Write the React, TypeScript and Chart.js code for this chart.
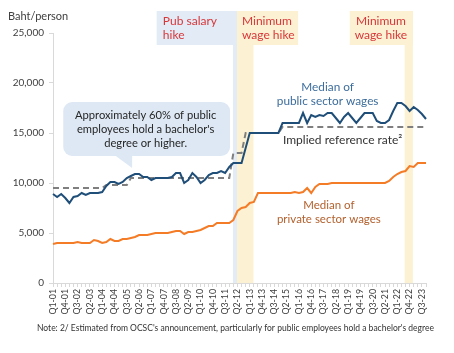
import React, { useEffect, useRef } from 'react';
import { Chart, registerables } from 'chart.js';

Chart.register(...registerables);

const years = ['01','02','03','04','05','06','07','08','09','10','11','12','13','14','15','16','17','18','19','20','21','22','23'];
const quarterNames = ['Q1', 'Q2', 'Q3', 'Q4'];
const quarters: string[] = [];
years.forEach((yy) => quarterNames.forEach((q) => quarters.push(`${q}-${yy}`)));

const publicWages = [
  8900, 8600, 8900, 8500, 8000, 8600, 8700, 9000, 8800, 9000,
  9000, 9000, 9100, 9700, 10100, 10100, 9900, 10100, 10500, 10700,
  10900, 10900, 10600, 10600, 10300, 10500, 10500, 10500, 10500, 10600,
  11000, 11000, 10000, 10300, 11000, 10600, 10000, 10300, 10800, 11000,
  11000, 11200, 11000, 11600, 12000, 12000, 12000, 13500, 15000, 15000,
  15000, 15000, 15000, 15000, 15000, 15000, 16000, 16000, 16000, 16000,
  16000, 17000, 16000, 16800, 16600, 16800, 16700, 17000, 17000, 16500,
  16000, 16600, 17000, 16500, 16000, 16500, 17000, 17000, 17000, 16200,
  16000, 16000, 16300, 17200, 18000, 18000, 17700, 17200, 17600, 17300,
  16900, 16400,
];

const privateWages = [
  3900, 4000, 4000, 4000, 4000, 4000, 4100, 4000, 4000, 4000,
  4300, 4200, 4000, 4100, 4400, 4200, 4200, 4400, 4400, 4500,
  4600, 4800, 4800, 4800, 4900, 5000, 5000, 5000, 5000, 5100,
  5200, 5200, 4900, 5100, 5100, 5200, 5300, 5500, 5700, 5700,
  6000, 6000, 6000, 6000, 6300, 7200, 7500, 7600, 8000, 8100,
  9000, 9000, 9000, 9000, 9000, 9000, 9000, 9000, 9000, 9100,
  9000, 9100, 9500, 9000, 9600, 9900, 9900, 9900, 10000, 10000,
  10000, 10000, 10000, 10000, 10000, 10000, 10000, 10000, 10000, 10000,
  10000, 10000, 10200, 10600, 10900, 11100, 11200, 11700, 11600, 12000,
  12000, 12000,
];

const impliedRate = [
  9500, 9500, 9500, 9500, 9500, 9500, 9500, 9500, 9500, 9500,
  9500, 9500, 9500, 9800, 9800, 9800, 9800, 9800, 9800, 10500,
  10500, 10500, 10500, 10500, 10500, 10500, 10500, 10500, 10500, 10500,
  10500, 10500, 10500, 10500, 10500, 10500, 10500, 10500, 10500, 10500,
  10500, 10500, 10500, 10500, 13000, 13000, 13000, 15000, 15000, 15000,
  15000, 15000, 15000, 15000, 15000, 15000, 15600, 15600, 15600, 15600,
  15600, 15600, 15600, 15600, 15600, 15600, 15600, 15600, 15600, 15600,
  15600, 15600, 15600, 15600, 15600, 15600, 15600, 15600, 15600, 15600,
  15600, 15600, 15600, 15600, 15600, 15600, 15600, 15600, 15600, 15600,
  15600, 15600,
];

const yTicks = [0, 5000, 10000, 15000, 20000, 25000];

const FONT = 'Lato';

const decoPlugin = {
  id: 'deco',
  beforeDatasetsDraw(chart: any) {
    const { ctx, chartArea: ca, scales } = chart;
    const x = scales.x;
    const y = scales.y;
    ctx.save();
    const boxTop = ca.top - 22;
    const boxBottom = ca.top + 12;
    const rect = (i0: number, i1: number, top: number, bottom: number, color: string) => {
      const x0 = x.getPixelForValue(i0);
      const x1 = x.getPixelForValue(i1);
      ctx.fillStyle = color;
      ctx.fillRect(x0, top, x1 - x0, bottom - top);
    };
    const blue = '#e2ebf6';
    const yellow = '#fcf1d2';
    rect(25.3, 44.9, boxTop, boxBottom, blue);
    rect(44.9, 59.8, boxTop, boxBottom, yellow);
    rect(72.4, 87.8, boxTop, boxBottom, yellow);
    rect(43.9, 44.9, boxTop, ca.bottom, blue);
    rect(44.9, 48.9, boxTop, ca.bottom, yellow);
    rect(85.8, 87.8, boxTop, ca.bottom, yellow);

    const cx0 = x.getPixelForValue(2.5);
    const cx1 = x.getPixelForValue(43.2);
    const cy0 = y.getPixelForValue(18100);
    const cy1 = y.getPixelForValue(12700);
    ctx.fillStyle = '#dde8f4';
    ctx.beginPath();
    ctx.roundRect(cx0, cy0, cx1 - cx0, cy1 - cy0, 9);
    ctx.fill();
    ctx.beginPath();
    ctx.moveTo(x.getPixelForValue(15), cy1 - 1);
    ctx.lineTo(x.getPixelForValue(19.3), cy1 - 1);
    ctx.lineTo(x.getPixelForValue(19.3), y.getPixelForValue(11500));
    ctx.closePath();
    ctx.fill();
    ctx.restore();
  },
  afterDatasetsDraw(chart: any) {
    const { ctx, chartArea: ca, scales } = chart;
    const x = scales.x;
    const y = scales.y;
    ctx.save();
    ctx.textBaseline = 'middle';
    const text = (s: string, px: number, py: number, color: string, align: CanvasTextAlign, size = 12) => {
      ctx.font = `${size}px ${FONT}`;
      ctx.fillStyle = color;
      ctx.textAlign = align;
      ctx.fillText(s, px, py);
    };
    const red = '#d8373a';
    const l1 = ca.top - 12;
    const l2 = ca.top + 2;
    text('Pub salary', x.getPixelForValue(26.8), l1, red, 'left', 12);
    text('hike', x.getPixelForValue(26.8), l2, red, 'left', 12);
    text('Minimum', x.getPixelForValue(46.1), l1, red, 'left', 12);
    text('wage hike', x.getPixelForValue(46.1), l2, red, 'left', 12);
    text('Minimum', x.getPixelForValue(80), l1, red, 'center', 12);
    text('wage hike', x.getPixelForValue(80), l2, red, 'center', 12);

    const cxm = x.getPixelForValue(22.6);
    const dark = '#262626';
    text('Approximately 60% of public', cxm, y.getPixelForValue(16800), dark, 'center', 11.2);
    text("employees hold a bachelor's", cxm, y.getPixelForValue(15400), dark, 'center', 11.2);
    text('degree or higher.', cxm, y.getPixelForValue(14000), dark, 'center', 11.2);

    const pub = '#3d6d9c';
    text('Median of', x.getPixelForValue(67), y.getPixelForValue(19600), pub, 'center', 11.8);
    text('public sector wages', x.getPixelForValue(67), y.getPixelForValue(18200), pub, 'center', 11.8);
    text('Implied reference rate\u00B2', x.getPixelForValue(56.1), y.getPixelForValue(14300), '#333333', 'left', 12);
    const priv = '#b3612e';
    text('Median of', x.getPixelForValue(67.3), y.getPixelForValue(7800), priv, 'center', 11.5);
    text('private sector wages', x.getPixelForValue(67.3), y.getPixelForValue(6400), priv, 'center', 11.5);

    text('Baht/person', 8, 16, '#404040', 'left', 11);
    text("Note: 2/ Estimated from OCSC's announcement, particularly for public employees hold a bachelor's degree", 37, 328, '#333333', 'left', 8.5);
    ctx.restore();
  },
};

export default function App() {
  const ref = useRef<HTMLCanvasElement | null>(null);
  useEffect(() => {
    if (!ref.current) return;
    const chart = new Chart(ref.current, {
      type: 'line',
      data: {
        labels: quarters,
        datasets: [
          {
            label: 'Median of public sector wages',
            data: publicWages,
            borderColor: '#1f4e79',
            borderWidth: 2,
            pointRadius: 0,
            tension: 0,
            fill: false,
          },
          {
            label: 'Median of private sector wages',
            data: privateWages,
            borderColor: '#f47c27',
            borderWidth: 2,
            pointRadius: 0,
            tension: 0,
            fill: false,
          },
          {
            label: 'Implied reference rate',
            data: impliedRate,
            borderColor: '#7f7f7f',
            borderWidth: 2,
            borderDash: [6, 4],
            pointRadius: 0,
            tension: 0,
            fill: false,
          },
        ],
      },
      options: {
        animation: false,
        responsive: false,
        devicePixelRatio: 1,
        layout: { padding: { left: 8, right: 28, top: 33, bottom: 34 } },
        plugins: { legend: { display: false }, tooltip: { enabled: false } },
        scales: {
          x: {
            type: 'category',
            offset: false,
            afterFit: (s: any) => { s.height = 36; },
            grid: { display: true, drawOnChartArea: false, drawTicks: true, tickLength: 4, color: '#d9d9d9' },
            border: { display: true, color: '#d9d9d9' },
            ticks: {
              autoSkip: false,
              maxRotation: 90,
              minRotation: 90,
              padding: 2,
              color: '#404040',
              font: { family: FONT, size: 8.8 },
              callback: (_v: any, i: number) => (i % 3 === 0 ? quarters[i] : ''),
            },
          },
          y: {
            min: 0,
            max: 25000,
            afterFit: (s: any) => { s.width = 45; },
            afterBuildTicks: (s: any) => { s.ticks = yTicks.map((v) => ({ value: v })); },
            grid: { display: true, drawOnChartArea: false, drawTicks: true, tickLength: 4, color: '#d9d9d9' },
            border: { display: true, color: '#d9d9d9' },
            ticks: {
              color: '#404040',
              padding: 5,
              font: { family: FONT, size: 10 },
              callback: (v: any) => Number(v).toLocaleString('en-US'),
            },
          },
        },
      },
      plugins: [decoPlugin],
    });
    return () => chart.destroy();
  }, []);
  return (
    <div style={{ position: 'fixed', left: 0, top: 0, width: 454, height: 353, background: '#fff' }}>
      <canvas ref={ref} width={454} height={353} style={{ width: 454, height: 353 }} />
    </div>
  );
}
